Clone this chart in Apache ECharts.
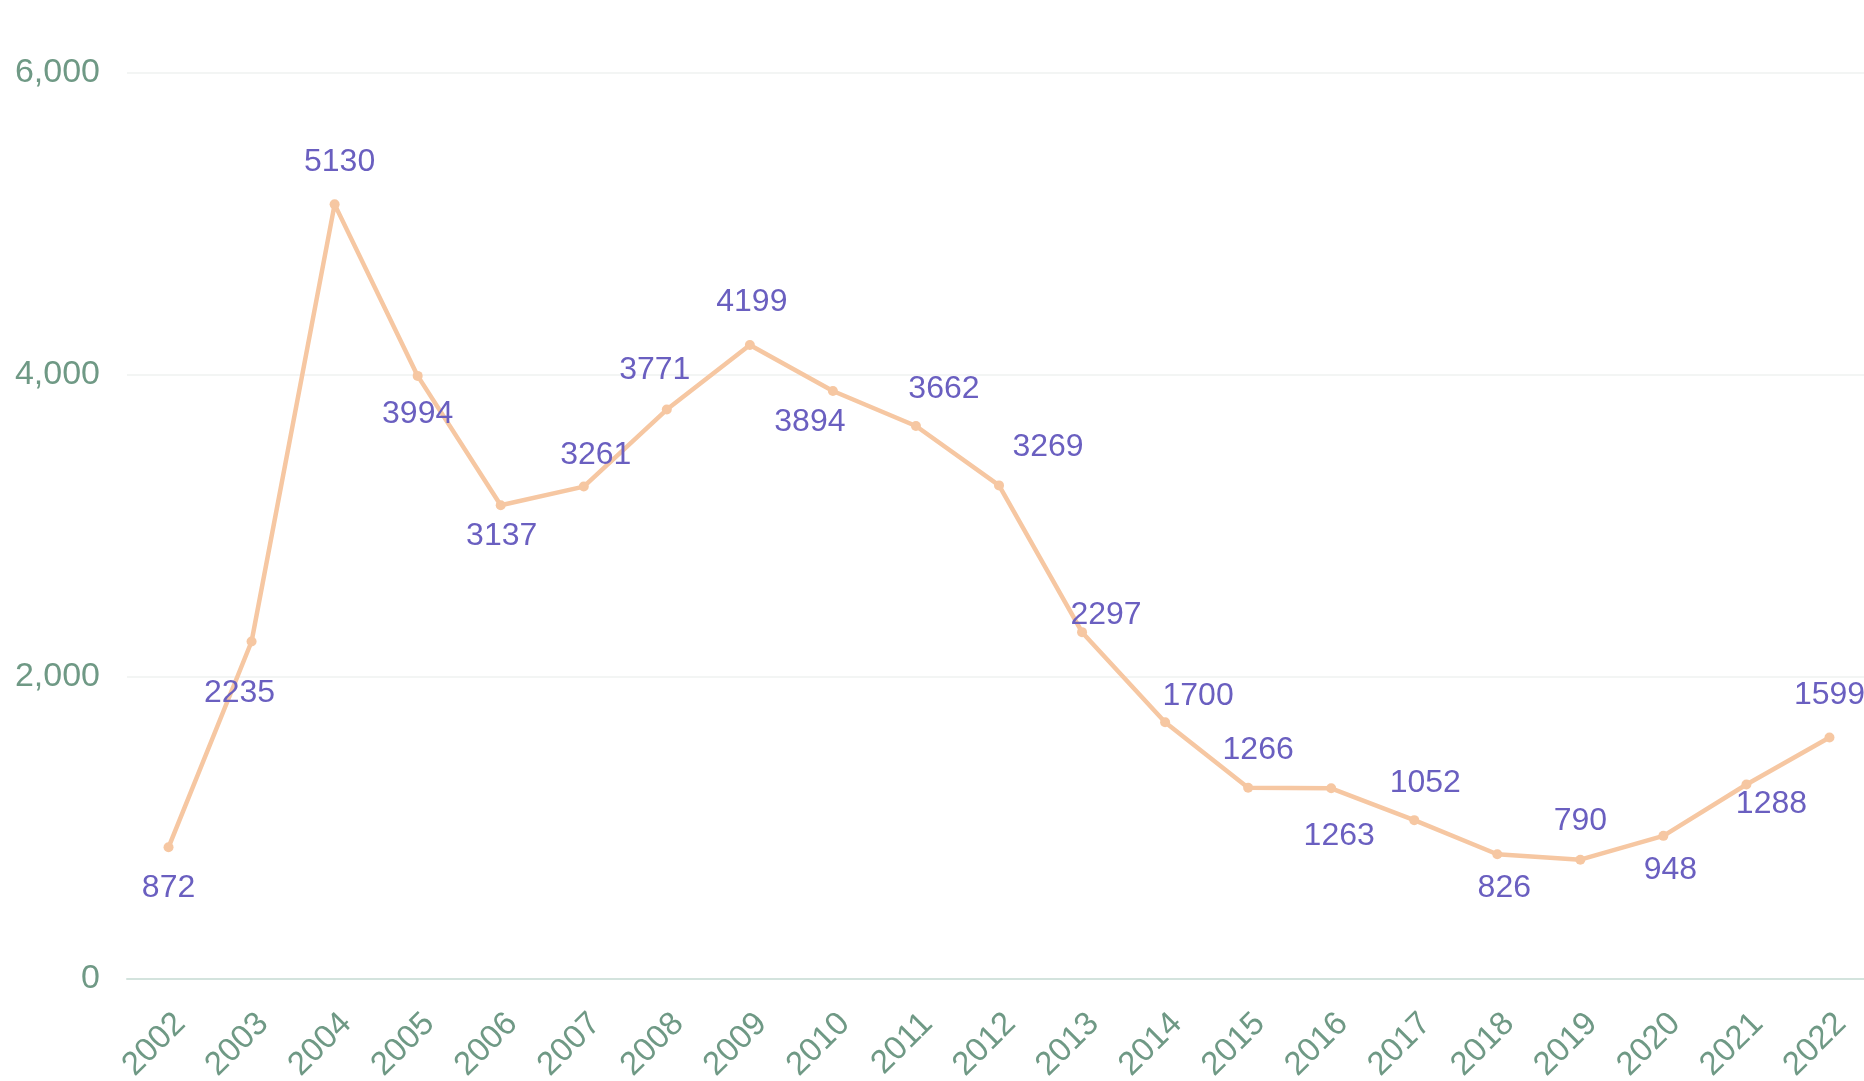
<!DOCTYPE html>
<html>
<head>
<meta charset="utf-8">
<script src="https://cdn.jsdelivr.net/npm/echarts@6/dist/echarts.min.js"></script>
<style>
  html, body { margin: 0; padding: 0; background: #fff; }
  #main { width: 1864px; height: 1081px; }
</style>
</head>
<body>
<div id="main"></div>
<script>
var years = ['2002', '2003', '2004', '2005', '2006', '2007', '2008', '2009', '2010', '2011',
    '2012', '2013', '2014', '2015', '2016', '2017', '2018', '2019', '2020', '2021', '2022'];
var counts = [872, 2235, 5130, 3994, 3137, 3261, 3771, 4199, 3894, 3662,
    3269, 2297, 1700, 1266, 1263, 1052, 826, 790, 948, 1288, 1599];
var yTicks = [0, 2000, 4000, 6000];

// where each value label sits relative to its point (px)
var labelShift = [[0, 41], [-12, 52], [5, -42], [0, 38], [1, 31], [12, -31], [-12, -39],
    [2, -43], [-23, 31], [28, -37], [49, -38], [24, -17], [33, -26], [10, -38], [8, 48],
    [11, -37], [7, 34], [0, -39], [7, 34], [25, 20], [0, -42]];

var seriesData = counts.map(function (v, i) {
    return { value: v, label: { offset: labelShift[i] } };
});

var chart = echarts.init(document.getElementById('main'));
chart.setOption({
    backgroundColor: '#fff',
    animation: false,
    grid: {
        left: 127, top: 73, width: 1744, height: 906,
        containLabel: false,
        outerBoundsMode: 'none'
    },
    xAxis: {
        type: 'category',
        data: years,
        boundaryGap: true,
        axisLine: { lineStyle: { color: '#d3e3dd', width: 2 } },
        axisTick: { show: false },
        axisLabel: {
            rotate: 45,
            margin: 28,
            verticalAlign: 'top',
            color: '#6f9985',
            fontSize: 33,
            fontFamily: 'Liberation Sans'
        }
    },
    yAxis: {
        type: 'value',
        min: yTicks[0],
        max: yTicks[yTicks.length - 1],
        interval: 2000,
        axisLine: { show: false },
        axisTick: { show: false },
        splitLine: { lineStyle: { color: '#f3f5f4', width: 2 } },
        axisLabel: {
            margin: 27,
            color: '#6f9985',
            fontSize: 34,
            fontFamily: 'Liberation Sans',
            formatter: function (v) { return v.toLocaleString('en-US'); }
        }
    },
    series: [{
        type: 'line',
        data: seriesData,
        symbol: 'circle',
        symbolSize: 10,
        lineStyle: { color: '#f6c7a2', width: 4.5 },
        itemStyle: { color: '#f6c7a2' },
        label: {
            show: true,
            position: 'inside',
            color: '#6a5fc0',
            fontSize: 32,
            fontFamily: 'Liberation Sans'
        }
    }]
});
</script>
</body>
</html>
